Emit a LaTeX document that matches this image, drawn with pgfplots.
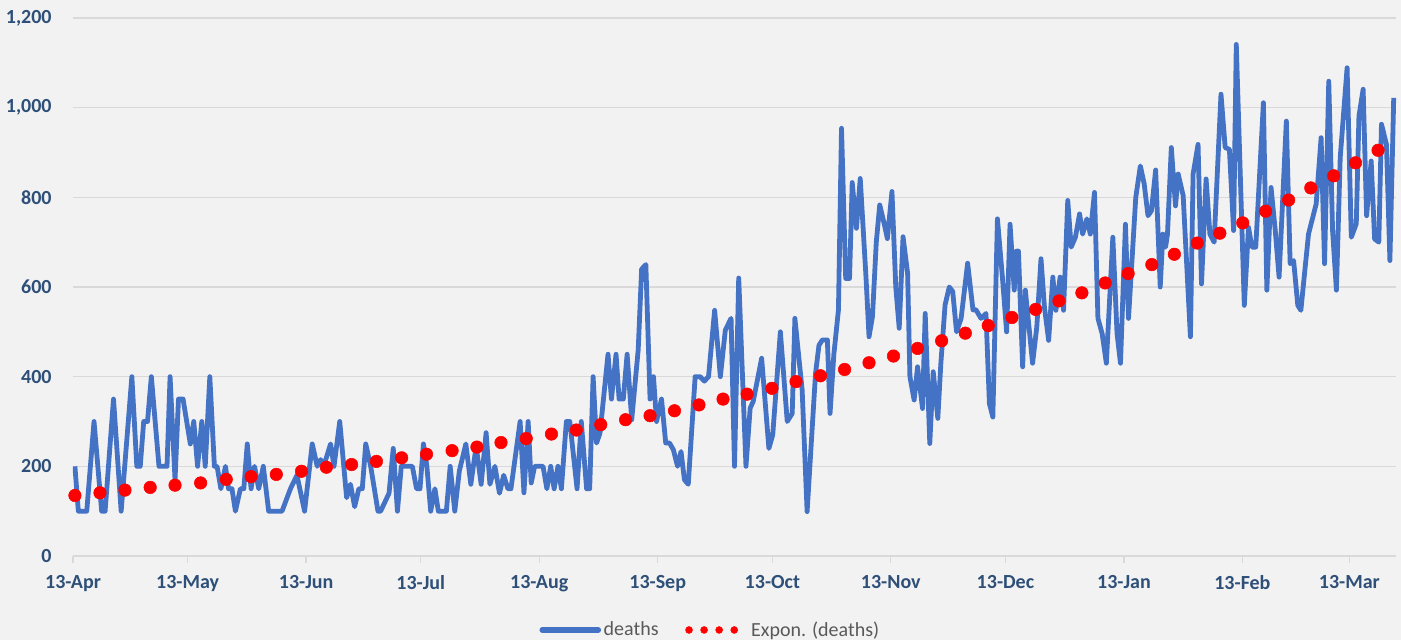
\documentclass[border=0pt]{standalone}
\usepackage{fontspec}
\setmainfont{Carlito}
\usepackage{pgfplots}
\pgfplotsset{compat=1.18}
\definecolor{bg}{HTML}{F2F2F2}
\definecolor{gridc}{HTML}{D9D9D9}
\definecolor{lab}{HTML}{2D4F78}
\definecolor{leg}{HTML}{595959}
\definecolor{blue1}{HTML}{4472C4}
\begin{document}
\begin{tikzpicture}
\useasboundingbox (-54.75pt,-63pt) rectangle (996pt,417pt);
\fill[bg] (-54.75pt,-63pt) rectangle (996pt,417pt);
\begin{axis}[
 at={(0,0)}, anchor=south west,
 scale only axis, width=992.25pt, height=403.5pt,
 xmin=-0.5, xmax=345.7, ymin=0, ymax=1200,
 axis x line*=bottom, axis y line*=left,
 x axis line style={draw=gridc, line width=1.5pt, -},
 y axis line style={draw=none},
 ymajorgrids, grid style={draw=gridc, line width=1.2pt},
 xtick={-0.5,29.5,60.5,90.5,121.5,152.5,182.5,213.5,243.5,274.5,305.5,333.5},
 xticklabels={13-Apr,13-May,13-Jun,13-Jul,13-Aug,13-Sep,13-Oct,13-Nov,13-Dec,13-Jan,13-Feb,13-Mar},
 ytick={0,200,...,1200},
 yticklabels={0,200,400,600,800,{1,000},{1,200}},
 tick align=outside, major tick length=5pt,
 xtick style={draw=gridc, line width=1pt},
 ytick style={draw=none},
 ticklabel style={font=\fontsize{15}{18}\selectfont\bfseries, text=lab},
 yticklabel style={xshift=-7.5pt},
 xticklabel style={yshift=-6pt},
 legend style={at={(0.482,-0.1375)}, anchor=center, draw=none, fill=none,
   font=\fontsize{15}{18}\selectfont, text=leg, legend columns=2,
   /tikz/every even column/.append style={column sep=18pt}},
]
\addplot[blue1, line width=3.6pt, line join=round, mark=none,
  legend image code/.code={\draw[blue1, line width=4.2pt, line cap=round] (0pt,0pt) -- (42pt,0pt);}]
coordinates {
(0,200) (0.9,100) (3.1,100) (5,300) (7,100) (7.9,100) (10.1,350) (12.1,100) (14.9,400) (16.2,200) (17.1,200) (18,300) (19,300) (20,400) (22,200) (24.1,200) (24.9,400) (26.2,170) (27.1,350) (28.3,350) (30.2,250) (31.1,300) (32.1,200) (33.2,300) (34.1,200) (35.3,400) (36.5,200) (37.2,200) (38.2,150) (39.4,200) (40.2,150) (41.1,150) (42,100) (43.3,150) (44.2,150) (45.1,250) (46.1,150) (47,200) (48.1,150) (49.3,200) (50.7,100) (54.2,100)
(56.4,150) (58.1,180) (60.1,100) (62.1,250) (63.4,200) (64.3,215) (65.1,200) (66.9,250) (67.8,200) (69.3,300) (71.1,130) (72.1,160) (73.2,110) (74.3,150) (75.2,150) (76.1,250) (77.4,200) (79.3,100) (80,100) (82.2,140) (83.3,240) (84.4,100) (85.4,200) (88.3,200) (89.4,150) (90.3,150) (91.2,250) (92.1,200) (93.1,100) (94.2,150) (95.1,100) (97.2,100) (98.2,200) (99.4,100) (100.6,190) (102.3,250) (103.6,160) (105,245) (106.3,160) (107.6,275) (108.6,160) (109.9,200) (111.1,140) (112.2,180) (113.3,150) (114.1,150)
(116.5,300) (117.5,141) (118.6,300) (119.4,163) (120.3,200) (122.5,200) (123.5,150) (124.5,200) (125.4,150) (126.4,200) (127.3,150) (128.6,300) (129.5,300) (131.4,150) (132.5,300) (133.9,150) (134.7,150) (135.6,400) (136.5,252) (137.4,274) (139.5,450) (140.4,350) (141.6,450) (142.4,350) (143.5,350) (144.5,450) (145.7,304) (147.4,460) (148.3,640) (149.4,650) (150.5,350) (151.4,400) (152.2,300) (153.5,350) (154.6,252) (155.6,252) (156.6,237) (157.7,200) (158.6,233) (159.5,170) (160.5,160) (162.3,400) (163.6,400) (164.7,390) (165.8,400) (167.4,548) (168.9,400) (170.2,504) (171.7,530) (172.6,200) (173.7,620) (175.6,200) (176.7,330)
(177.5,345) (179.7,441) (181.6,240) (182.6,270) (184.6,500) (186.4,300) (187.7,318) (188.4,530) (190.3,370) (191.6,99) (193.8,407) (194.7,470) (195.6,482) (196.9,482) (197.6,318) (198.6,450) (199.8,549) (200.6,954) (201.7,619) (202.7,619) (203.4,833) (204.5,731) (205.5,842) (207,623) (207.8,489) (208.7,534) (209.7,700) (210.6,783) (211.8,740) (212.6,708) (213.8,813) (214.8,600) (215.7,508) (216.7,712) (217.9,630) (218.5,400) (219.6,348) (220.5,422) (221.8,329) (222.5,541) (223.7,251) (224.6,411) (225.8,307) (226.6,430) (227.7,560) (228.8,600) (229.7,590) (230.7,500) (231.9,530) (233.6,653) (235,549) (235.8,549) (237.1,530) (238.4,541) (239.3,340) (240.2,310)
(241.4,752) (242.7,622) (243.8,500) (244.7,740) (245.8,593) (246.4,680) (246.9,680) (248,422) (248.7,593) (250.6,430) (251.7,511) (252.8,663) (253.7,555) (254.8,481) (255.9,622) (256.7,548) (257.8,622) (258.7,548) (259.8,793) (260.7,689) (261.8,711) (262.9,763) (263.7,718) (264.8,752) (265.7,718) (266.8,811) (267.7,530) (268.8,496) (269.9,430) (271.6,711) (272.7,496) (273.6,430) (274.9,740) (275.7,530) (277.6,800) (278.8,870) (279.8,830) (280.8,759) (281.7,770) (282.8,861) (284,600) (284.7,718) (285.4,689) (285.9,718) (286.9,911) (288,781) (288.7,852) (290,804) (291.9,489) (292.6,852) (293.9,918) (294.8,607)
(296,841) (297,718) (298.1,700) (299.9,1030) (301,911) (302.1,907) (303.2,726) (303.9,1141) (306,559) (307.1,733) (308,689) (309,689) (311,1011) (311.9,593) (313,822) (314.1,726) (315.1,622) (317,970) (318,652) (318.9,659) (320,559) (320.8,548) (322.8,718) (324.8,785) (326.1,933) (327,652) (328.1,1059) (329.1,726) (330.1,593) (331.1,889) (332.9,1089) (334,711) (335.3,741) (336,981) (337.1,1041) (338,759) (339.2,881) (340.1,707) (341.2,700) (341.9,963) (343.2,918) (344.1,659) (345.1,1022)
};
\addlegendentry{deaths}
\addplot[only marks, mark=*, mark size=4.7pt, red, mark options={fill=red, draw=none},
  legend image code/.code={\foreach \k in {0,1,2,3}{\fill[red] (\k*11.3pt+2.6pt,0pt) circle (2.6pt);}\path (47pt,0pt);}]
coordinates {
(0,135) (6.56,141) (13.1,147) (19.7,153) (26.2,158) (32.9,163) (39.6,171) (46.1,177) (52.7,182) (59.3,189) (65.8,198) (72.4,204) (78.9,211) (85.5,219) (92.0,227) (98.7,235) (105.2,243) (111.5,253) (118.1,262) (124.7,272) (131.2,281) (137.6,293) (144.1,304) (150.5,313) (156.9,324) (163.3,337) (169.6,350) (175.9,361) (182.4,374) (188.7,389) (195.1,402) (201.4,416) (207.8,431) (214.2,446) (220.5,463) (226.8,480) (233.0,497) (239.0,514) (245.2,532) (251.4,550) (257.5,569) (263.5,587) (269.6,609) (275.6,630) (281.8,650) (287.7,673) (293.7,698) (299.6,720) (305.6,743) (311.6,769) (317.6,794) (323.4,821) (329.4,848) (335.1,877) (341.0,905)
};
\addlegendentry{Expon. (deaths)}
\end{axis}
\end{tikzpicture}
\end{document}
